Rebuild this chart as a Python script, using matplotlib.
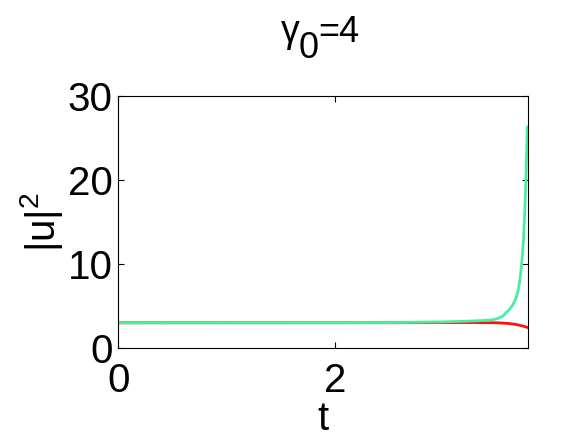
import matplotlib
matplotlib.use("Agg")
import matplotlib.pyplot as plt

t_green = [0.0, 2.5, 2.97, 3.2, 3.43, 3.50, 3.55, 3.58, 3.61, 3.64, 3.66, 3.675, 3.69,
           3.70, 3.71, 3.72, 3.73, 3.74, 3.75, 3.755, 3.76, 3.765, 3.77, 3.775]
u_green = [3.0, 3.02, 3.1, 3.18, 3.3, 3.5, 3.8, 4.2, 4.6, 5.1, 5.6, 6.1, 6.8,
           7.6, 8.5, 9.7, 11.2, 13.0, 15.8, 17.6, 19.3, 21.5, 23.8, 26.3]
t_red = [0.0, 2.5, 3.0, 3.3, 3.5, 3.6, 3.67, 3.72, 3.75, 3.775]
u_red = [3.0, 3.0, 3.03, 3.03, 3.0, 2.92, 2.8, 2.65, 2.55, 2.45]

xticks = [0, 2]
yticks = [0, 10, 20, 30]

plt.rcParams['font.family'] = ['Liberation Sans', 'DejaVu Sans']
plt.rcParams['mathtext.default'] = 'regular'
fig = plt.figure(figsize=(5.82, 4.38), dpi=100)
ax = fig.add_axes([0.203, 0.2055, 0.704, 0.5755])

ax.plot(t_red, u_red, color='#ff1010', lw=2)
ax.plot(t_green, u_green, color='#44f0a0', lw=2)

ax.set_xlim(0, 3.78)
ax.set_ylim(0, 30)
ax.set_xticks(xticks)
ax.set_yticks(yticks)
ax.tick_params(direction='in', labelsize=29, length=4, top=True, right=True)
ax.tick_params(axis='x', pad=10)
ax.tick_params(axis='y', pad=4)
ax.set_xlabel('t', fontsize=29, labelpad=0)
ax.set_ylabel('|u|$^2$', fontsize=29, labelpad=2)

# title: gamma with a full-size, lowered subscript
fig.text(281 / 582, 1 - 42 / 438, 'γ', fontsize=27, ha='left', va='baseline')
fig.text(299 / 582, 1 - 58 / 438, '0', fontsize=26, ha='left', va='baseline')
fig.text(318 / 582, 1 - 42 / 438, '=4', fontsize=26, ha='left', va='baseline')

fig.savefig('out.png', dpi=100)
